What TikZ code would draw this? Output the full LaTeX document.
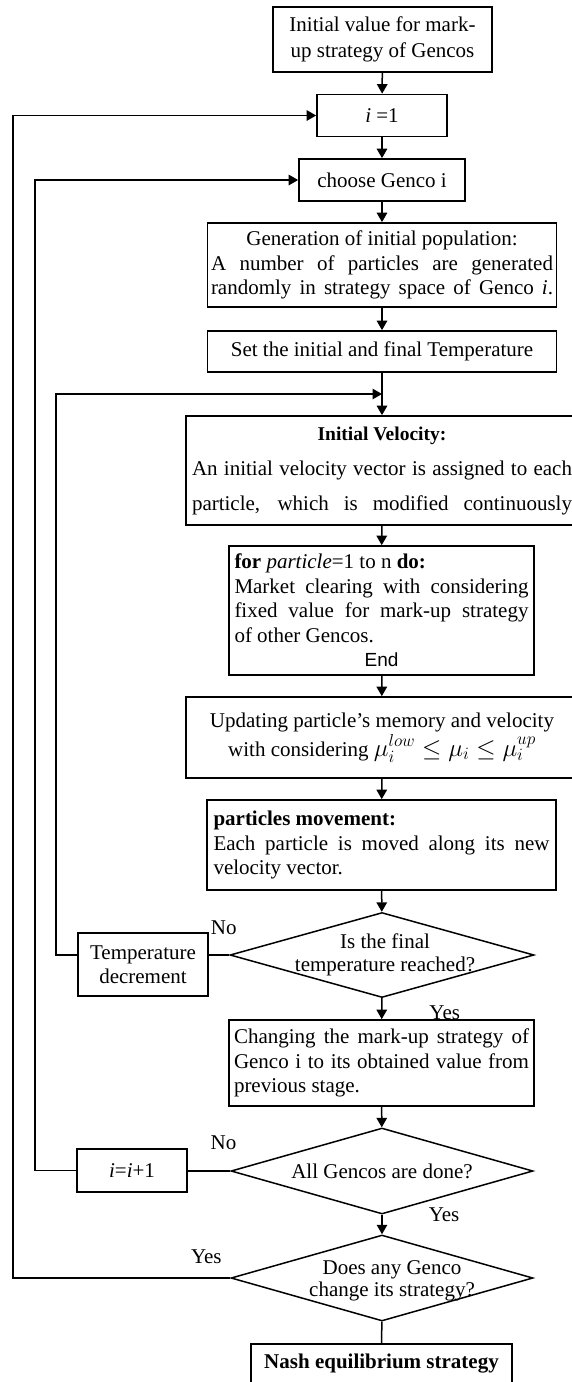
\documentclass[tikz,border=0pt]{standalone}
\usepackage{fontspec}
\setmainfont{Liberation Serif}
\newfontfamily\endsans{Liberation Sans}
\usetikzlibrary{shapes.geometric, arrows.meta, calc}

\begin{document}
\begin{tikzpicture}[
    x=1pt, y=-1pt,
    font=\fontsize{21}{24.5}\selectfont,
    line width=1.5pt,
    block/.style={rectangle, draw, line width=1.7pt, inner sep=0pt, align=center},
    test/.style={diamond, draw, line width=1.5pt, inner sep=0pt, minimum width=302pt, minimum height=86pt},
    qtext/.style={align=center, inner sep=0pt, font=\fontsize{21}{22.5}\selectfont},
    ans/.style={inner sep=0pt},
    arrow/.style={-{Triangle[length=9.5pt,width=10.5pt]}}
]
\clip (0,0) rectangle (572,1382);

% Initialisation
\node [block, minimum width=219pt, minimum height=65pt, font=\fontsize{21}{26}\selectfont] (init) at (382.5,39.5) {Initial value for mark-\\up strategy of Gencos};
\node [block, minimum width=130pt, minimum height=42pt] (ione) at (382,115.5) {\textit{i} =1};
\node [block, minimum width=166pt, minimum height=42pt] (choose) at (382,180) {choose Genco i};
\node [block, minimum width=349pt, minimum height=84pt] (gen) at (382,265) {Generation of initial population:\\
    \makebox[342pt][s]{A number of particles are generated}\\
    \makebox[342pt][s]{randomly in strategy space of Genco \textit{i}.}};
\node [block, minimum width=349pt, minimum height=41pt] (settemp) at (382,351.5) {Set the initial and final Temperature};

% Particle swarm part
\node [block, minimum width=392pt, minimum height=109pt, font=\fontsize{21}{35}\selectfont] (initvel) at (382,470.5) {{\fontsize{19.5}{35}\selectfont\textbf{Initial Velocity:}}\\
    \makebox[380pt][s]{An initial velocity vector is assigned to each}\\
    \makebox[380pt][s]{particle, which is modified continuously}};
\node [block, minimum width=305pt, minimum height=129pt] (forpart) at (381.5,610.5) {\makebox[294pt][l]{\textbf{for} \textit{particle}=1 to n \textbf{do:}}\\
    \makebox[294pt][s]{Market clearing with considering}\\
    \makebox[294pt][s]{fixed value for mark-up strategy}\\
    \makebox[294pt][l]{of other Gencos.}\\
    {\endsans\fontsize{19}{24.5}\selectfont End}};
\node [block, minimum width=392pt, minimum height=81pt] (update) at (382,737.5) {Updating particle’s memory and velocity\\[2pt]
    with considering {\fontsize{26}{26}\selectfont$\mu_i^{low}\le\mu_i\le\mu_i^{up}$}};
\node [block, minimum width=349pt, minimum height=90pt] (move) at (381.5,845) {\makebox[336pt][l]{\textbf{particles movement:}}\\
    \makebox[336pt][s]{Each particle is moved along its new}\\
    \makebox[336pt][l]{velocity vector.}};

% Temperature test
\node [test, minimum width=304pt, minimum height=85pt, label={[qtext, xshift=3pt]center:Is the final\\temperature reached?}] (d1) at (382,955) {};
\node [block, minimum width=130pt, minimum height=63pt] (tempdec) at (143,964.5) {Temperature\\decrement};
\node [block, minimum width=305pt, minimum height=86pt] (change) at (381.5,1063) {\makebox[295pt][s]{Changing the mark-up strategy of}\\
    \makebox[295pt][s]{Genco i to its obtained value from}\\
    \makebox[295pt][l]{previous stage.}};

% Genco tests
\node [test, label={[qtext]center:All Gencos are done?}] (d2) at (382,1171) {};
\node [block, minimum width=110pt, minimum height=43pt] (incr) at (132,1170.5) {\textit{i}=\textit{i}+1};
\node [test, label={[qtext, xshift=10pt, yshift=-3pt]center:Does any Genco\\change its strategy?}] (d3) at (382,1278) {};
\node [block, anchor=north, minimum width=261pt, inner ysep=10pt] (nash) at (381.5,1343) {\textbf{Nash equilibrium strategy}\rule[-40pt]{0pt}{40pt}};

% Loop rails
\coordinate (railA) at (13,0);
\coordinate (railB) at (35,0);
\coordinate (railC) at (56,0);
\coordinate (inloop) at (382,394);

% Main flow
\draw [arrow] (init) -- (ione);
\draw [arrow] (ione) -- (choose);
\draw [arrow] (choose) -- (gen);
\draw [arrow] (gen) -- (settemp);
\draw [arrow] (settemp) -- (initvel);
\draw [arrow] (initvel) -- (forpart);
\draw [arrow] (forpart) -- (update);
\draw [arrow] (update) -- (move);
\draw [arrow] (move) -- (d1);
\draw [arrow] (d1) -- node[ans, pos=0.7, right=47pt] {Yes} (change);
\draw [arrow] (change) -- (d2);
\draw [arrow] (d2) -- node[ans, pos=0, right=46pt] {Yes} (d3);
\draw (d3) -- (nash);

% Feedback loops
\draw (d1.west) -- node[ans, pos=0.27, above=20pt] {No} (d1.west -| tempdec.east);
\draw [arrow] (d1.west -| tempdec.west) -- (d1.west -| railC) |- (inloop);
\draw (d2.west) -- node[ans, pos=0.16, above=21pt] {No} (d2.west -| incr.east);
\draw [arrow] (incr.west) -- (incr.west -| railB) |- (choose.west);
\draw [arrow] (d3.west) -- node[ans, pos=0.11, above=14pt] {Yes} (d3.west -| railA) |- (ione.west);

\end{tikzpicture}
\end{document}
